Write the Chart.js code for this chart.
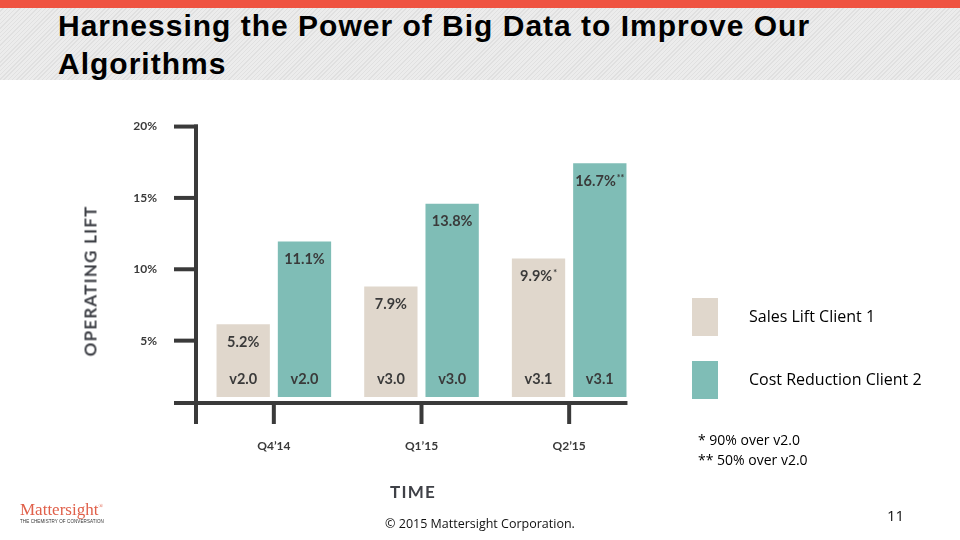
<!DOCTYPE html>
<html>
<head>
<meta charset="utf-8">
<script src="https://cdn.jsdelivr.net/npm/chart.js@4.4.0/dist/chart.umd.min.js"></script>
<style>
    html, body { margin: 0; padding: 0; }
    body { width: 960px; height: 540px; position: relative; overflow: hidden; background: #fff; }
    .topbar { position: absolute; left: 0; top: 0; width: 960px; height: 8px; background: #ef5341; }
    .band {
        position: absolute; left: 0; top: 8px; width: 960px; height: 72px;
        background: repeating-linear-gradient(135deg, #ececec 0px, #ececec 2px, #e0e0e0 2px, #e0e0e0 3px);
    }
    h1 {
        position: absolute; left: 58px; top: 7px; margin: 0; width: 790px;
        font: bold 30px "Liberation Sans", Arial, sans-serif; line-height: 38px; letter-spacing: 1px; color: #000;
    }
    #chart { position: absolute; left: 0; top: 0; }
    .axis-title { position: absolute; font: bold 17px Lato, sans-serif; color: #3f4147; letter-spacing: 1.2px; white-space: nowrap; }
    .swatch { position: absolute; width: 26px; height: 38px; }
    .legend-text { position: absolute; font: 16px "Open Sans", sans-serif; color: #000; white-space: nowrap; }
    .note { position: absolute; font: 14px "Open Sans", sans-serif; color: #000; white-space: nowrap; }
    .logo { position: absolute; left: 20px; top: 500px; font: 17px "Liberation Serif", serif; color: #e0604a; }
    .logo sup { font-size: 6px; }
    .logo small { display: block; font: 4.5px "Liberation Sans", sans-serif; color: #333; margin-top: -1px; letter-spacing: 0.1px; }
    .copy { position: absolute; left: 0; width: 960px; top: 515px; text-align: center; font: 12.5px "Open Sans", sans-serif; color: #111; }
    .page { position: absolute; left: 887px; top: 505px; font: 15px "Open Sans", sans-serif; color: #111; }
</style>
</head>
<body>
<div class="topbar"></div>
<div class="band"></div>
<h1>Harnessing the Power of Big Data to Improve Our Algorithms</h1>
<canvas id="chart" width="960" height="540"></canvas>
<div class="axis-title" id="yTitle">OPERATING LIFT</div>
<div class="axis-title" id="xTitle">TIME</div>
<div id="legend"></div>
<div id="notes"></div>
<div class="logo">Mattersight<sup>®</sup><small>THE CHEMISTRY OF CONVERSATION</small></div>
<div class="copy">© 2015 Mattersight Corporation.</div>
<div class="page">11</div>
<script>
// --- Data ---
const categories = ["Q4\u201914", "Q1\u201915", "Q2\u201915"];
const versions = ['v2.0', 'v3.0', 'v3.1'];
const salesLift = [5.2, 7.9, 9.9];
const costReduction = [11.1, 13.8, 16.7];
const salesNotes = ['', '', '*'];
const costNotes = ['', '', '**'];
const yTickValues = [5, 10, 15, 20];
const seriesNames = ['Sales Lift Client 1', 'Cost Reduction Client 2'];
const footnotes = ['* 90% over v2.0', '** 50% over v2.0'];

const BEIGE = '#e0d7cc';
const TEAL = '#7fbdb6';
const INK = '#3a3a3a';
const LABEL_FONT = 'Lato, sans-serif';

// --- Axis titles ---
const yTitle = document.getElementById('yTitle');
yTitle.style.left = '90px';
yTitle.style.top = '281px';
yTitle.style.transform = 'translate(-50%, -50%) rotate(-90deg)';
const xTitle = document.getElementById('xTitle');
xTitle.style.left = '413px';
xTitle.style.top = '491px';
xTitle.style.transform = 'translate(-50%, -50%)';

// --- Legend and footnotes ---
const legendEl = document.getElementById('legend');
[BEIGE, TEAL].forEach((color, i) => {
    const top = 298 + i * 63;
    const sw = document.createElement('div');
    sw.className = 'swatch';
    sw.style.left = '692px';
    sw.style.top = top + 'px';
    sw.style.background = color;
    legendEl.appendChild(sw);
    const tx = document.createElement('div');
    tx.className = 'legend-text';
    tx.textContent = seriesNames[i];
    tx.style.left = '749px';
    tx.style.top = (top + 7) + 'px';
    legendEl.appendChild(tx);
});
const notesEl = document.getElementById('notes');
footnotes.forEach((t, i) => {
    const n = document.createElement('div');
    n.className = 'note';
    n.textContent = t;
    n.style.left = '698px';
    n.style.top = (430 + i * 20) + 'px';
    notesEl.appendChild(n);
});

// --- Custom axes drawn from the scales ---
const axesPlugin = {
    id: 'customAxes',
    afterDatasetsDraw(chart) {
        const { ctx, chartArea, scales } = chart;
        const yt = scales.yt;
        const x = scales.x;
        const axisX = chartArea.left - 4;
        const bottom = chartArea.bottom;
        const lastMeta = chart.getDatasetMeta(chart.data.datasets.length - 1);
        const lastBar = lastMeta.data[lastMeta.data.length - 1];
        const rightEnd = lastBar.x + lastBar.width / 2 + 1;

        ctx.save();
        ctx.strokeStyle = INK;
        ctx.lineWidth = 4;
        ctx.lineCap = 'butt';
        const line = (x1, y1, x2, y2) => {
            ctx.beginPath();
            ctx.moveTo(x1, y1);
            ctx.lineTo(x2, y2);
            ctx.stroke();
        };

        // y axis
        line(axisX, yt.getPixelForValue(20) - 2, axisX, bottom + 21);
        ctx.fillStyle = INK;
        ctx.font = 'bold 12px ' + LABEL_FONT;
        ctx.textAlign = 'right';
        ctx.textBaseline = 'middle';
        yTickValues.forEach(v => {
            const py = yt.getPixelForValue(v);
            line(axisX - 22, py, axisX + 2, py);
            ctx.fillText(v + '%', axisX - 39, py);
        });

        // x axis
        line(axisX - 22, bottom, rightEnd, bottom);
        ctx.textAlign = 'center';
        categories.forEach((c, i) => {
            const px = x.getPixelForValue(i);
            line(px, bottom, px, bottom + 21);
            ctx.fillText(c, px, bottom + 43);
        });
        ctx.restore();
    }
};

// --- Bar labels ---
const barLabelsPlugin = {
    id: 'barLabels',
    afterDatasetsDraw(chart) {
        const { ctx } = chart;
        ctx.save();
        ctx.fillStyle = INK;
        ctx.textBaseline = 'middle';
        chart.data.datasets.forEach((ds, di) => {
            const meta = chart.getDatasetMeta(di);
            meta.data.forEach((bar, i) => {
                const main = ds.data[i].toFixed(1) + '%';
                const note = ds.notes[i];
                ctx.font = 'bold 14.5px ' + LABEL_FONT;
                const w1 = ctx.measureText(main).width;
                ctx.font = 'bold 9px ' + LABEL_FONT;
                const w2 = note ? ctx.measureText(note).width + 1 : 0;
                const startX = bar.x - (w1 + w2) / 2;
                ctx.textAlign = 'left';
                ctx.font = 'bold 14.5px ' + LABEL_FONT;
                ctx.fillText(main, startX, bar.y + 18);
                if (note) {
                    ctx.font = 'bold 9px ' + LABEL_FONT;
                    ctx.fillText(note, startX + w1 + 1, bar.y + 15);
                }
                ctx.font = 'bold 14.5px ' + LABEL_FONT;
                ctx.textAlign = 'center';
                ctx.fillText(versions[i], bar.x, bar.base - 18);
            });
        });
        ctx.restore();
    }
};

new Chart(document.getElementById('chart'), {
    type: 'bar',
    data: {
        labels: categories,
        datasets: [
            { label: seriesNames[0], data: salesLift, notes: salesNotes, backgroundColor: BEIGE, yAxisID: 'y' },
            { label: seriesNames[1], data: costReduction, notes: costNotes, backgroundColor: TEAL, yAxisID: 'y' }
        ]
    },
    options: {
        responsive: false,
        animation: false,
        layout: { padding: { left: 200, right: 317, top: 117, bottom: 137 } },
        categoryPercentage: 0.83,
        barPercentage: 0.87,
        plugins: {
            legend: { display: false },
            tooltip: { enabled: false }
        },
        scales: {
            x: { display: false },
            y: { display: false, min: -0.43, max: 20 },
            yt: { display: false, min: 0.63, max: 20.67 }
        }
    },
    plugins: [axesPlugin, barLabelsPlugin]
});
</script>
</body>
</html>
